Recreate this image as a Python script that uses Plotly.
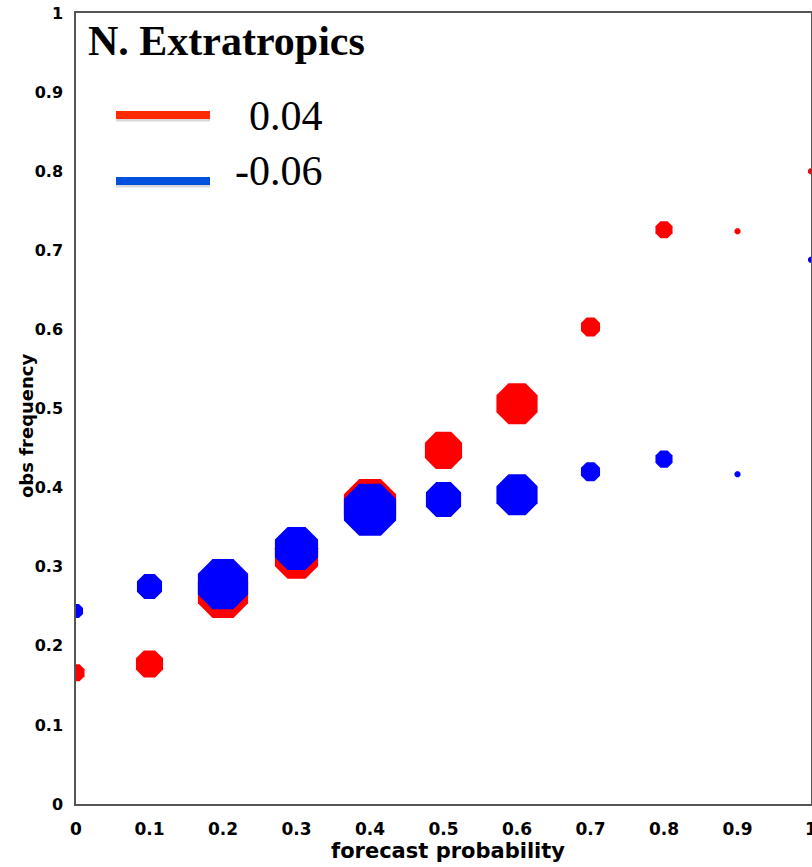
import plotly.graph_objects as go

# ---- data ----
forecast_prob = [0.0, 0.1, 0.2, 0.3, 0.4, 0.5, 0.6, 0.7, 0.8, 0.9, 1.0]
red_obs = [0.166, 0.177, 0.267, 0.312, 0.378, 0.447, 0.506, 0.603, 0.726, 0.724, 0.800]
blue_obs = [0.244, 0.275, 0.278, 0.323, 0.372, 0.385, 0.391, 0.420, 0.436, 0.417, 0.688]
red_counts = [17, 27, 50, 43, 52, 37, 41, 19, 17, 6, 6]
blue_counts = [14, 25, 50, 43, 52, 35, 41, 19, 17, 6, 6]
legend_labels = ["0.04", "-0.06"]
panel_title = "N. Extratropics"
tick_vals = [0, 0.1, 0.2, 0.3, 0.4, 0.5, 0.6, 0.7, 0.8, 0.9, 1.0]
tick_text = ["0", "0.1", "0.2", "0.3", "0.4", "0.5", "0.6", "0.7", "0.8", "0.9", "1"]

W, H = 812, 867
L, R, T, B = 76, 1, 13, 63
PW, PH = W - L - R, H - T - B


def px(x):
    return (x - L) / PW


def py(y):
    return (H - B - y) / PH


RED = "#ff0000"
BLUE = "#0000ff"

fig = go.Figure()
fig.add_trace(go.Scatter(
    x=forecast_prob, y=red_obs, mode="markers",
    marker=dict(symbol="octagon", color=RED, opacity=1,
                size=[s / 0.92 for s in red_counts], line=dict(width=0)),
    showlegend=False, hoverinfo="x+y"))
fig.add_trace(go.Scatter(
    x=forecast_prob, y=blue_obs, mode="markers",
    marker=dict(symbol="octagon", color=BLUE, opacity=1,
                size=[s / 0.92 for s in blue_counts], line=dict(width=0)),
    showlegend=False, hoverinfo="x+y"))

axis_common = dict(
    range=[0, 1], tickvals=tick_vals, ticktext=tick_text,
    showgrid=False, zeroline=False, showline=True, linecolor="#555555", linewidth=1.5,
    mirror=True, ticks="", automargin=False, ticklabeloverflow="allow",
)
fig.update_xaxes(**axis_common, ticklabelstandoff=9,
                 tickfont=dict(family="DejaVu Sans", size=17, color="black", weight="bold"))
fig.update_yaxes(**axis_common, ticklabelstandoff=8,
                 tickfont=dict(family="DejaVu Sans", size=16, color="black", weight="bold"))

annotations = [
    dict(text="<b>" + panel_title + "</b>", x=px(86), y=py(41), xref="paper", yref="paper",
         xanchor="left", yanchor="middle", showarrow=False,
         font=dict(family="Liberation Serif", size=42, color="black")),
    dict(text=legend_labels[0], x=px(325), y=py(116), xref="paper", yref="paper",
         xanchor="right", yanchor="middle", showarrow=False,
         font=dict(family="Liberation Serif", size=42, color="black")),
    dict(text=legend_labels[1], x=px(325), y=py(171), xref="paper", yref="paper",
         xanchor="right", yanchor="middle", showarrow=False,
         font=dict(family="Liberation Serif", size=42, color="black")),
    dict(text="<b>forecast probability</b>", x=px(448), y=py(851), xref="paper", yref="paper",
         xanchor="center", yanchor="middle", showarrow=False,
         font=dict(family="DejaVu Sans", size=21, color="black")),
    dict(text="<b>obs frequency</b>", x=px(26), y=py(425), xref="paper", yref="paper",
         xanchor="center", yanchor="middle", showarrow=False, textangle=-90,
         font=dict(family="DejaVu Sans", size=18, color="black")),
]

shapes = []
for yy, col in [(115, "#ff2a00"), (181, "#0050e0")]:
    shapes.append(dict(type="line", xref="paper", yref="paper", x0=px(116), x1=px(210),
                       y0=py(yy + 4), y1=py(yy + 4), line=dict(color="rgba(0,0,0,0.15)", width=5)))
    shapes.append(dict(type="line", xref="paper", yref="paper", x0=px(116), x1=px(210),
                       y0=py(yy), y1=py(yy), line=dict(color=col, width=8)))

fig.update_layout(
    width=W, height=H, margin=dict(l=L, r=R, t=T, b=B),
    paper_bgcolor="white", plot_bgcolor="white",
    annotations=annotations, shapes=shapes,
)

fig.write_html(
    "out.html",
    config={"displayModeBar": False},
    post_script="document.body.style.margin='0';document.body.style.overflow='hidden';",
)
